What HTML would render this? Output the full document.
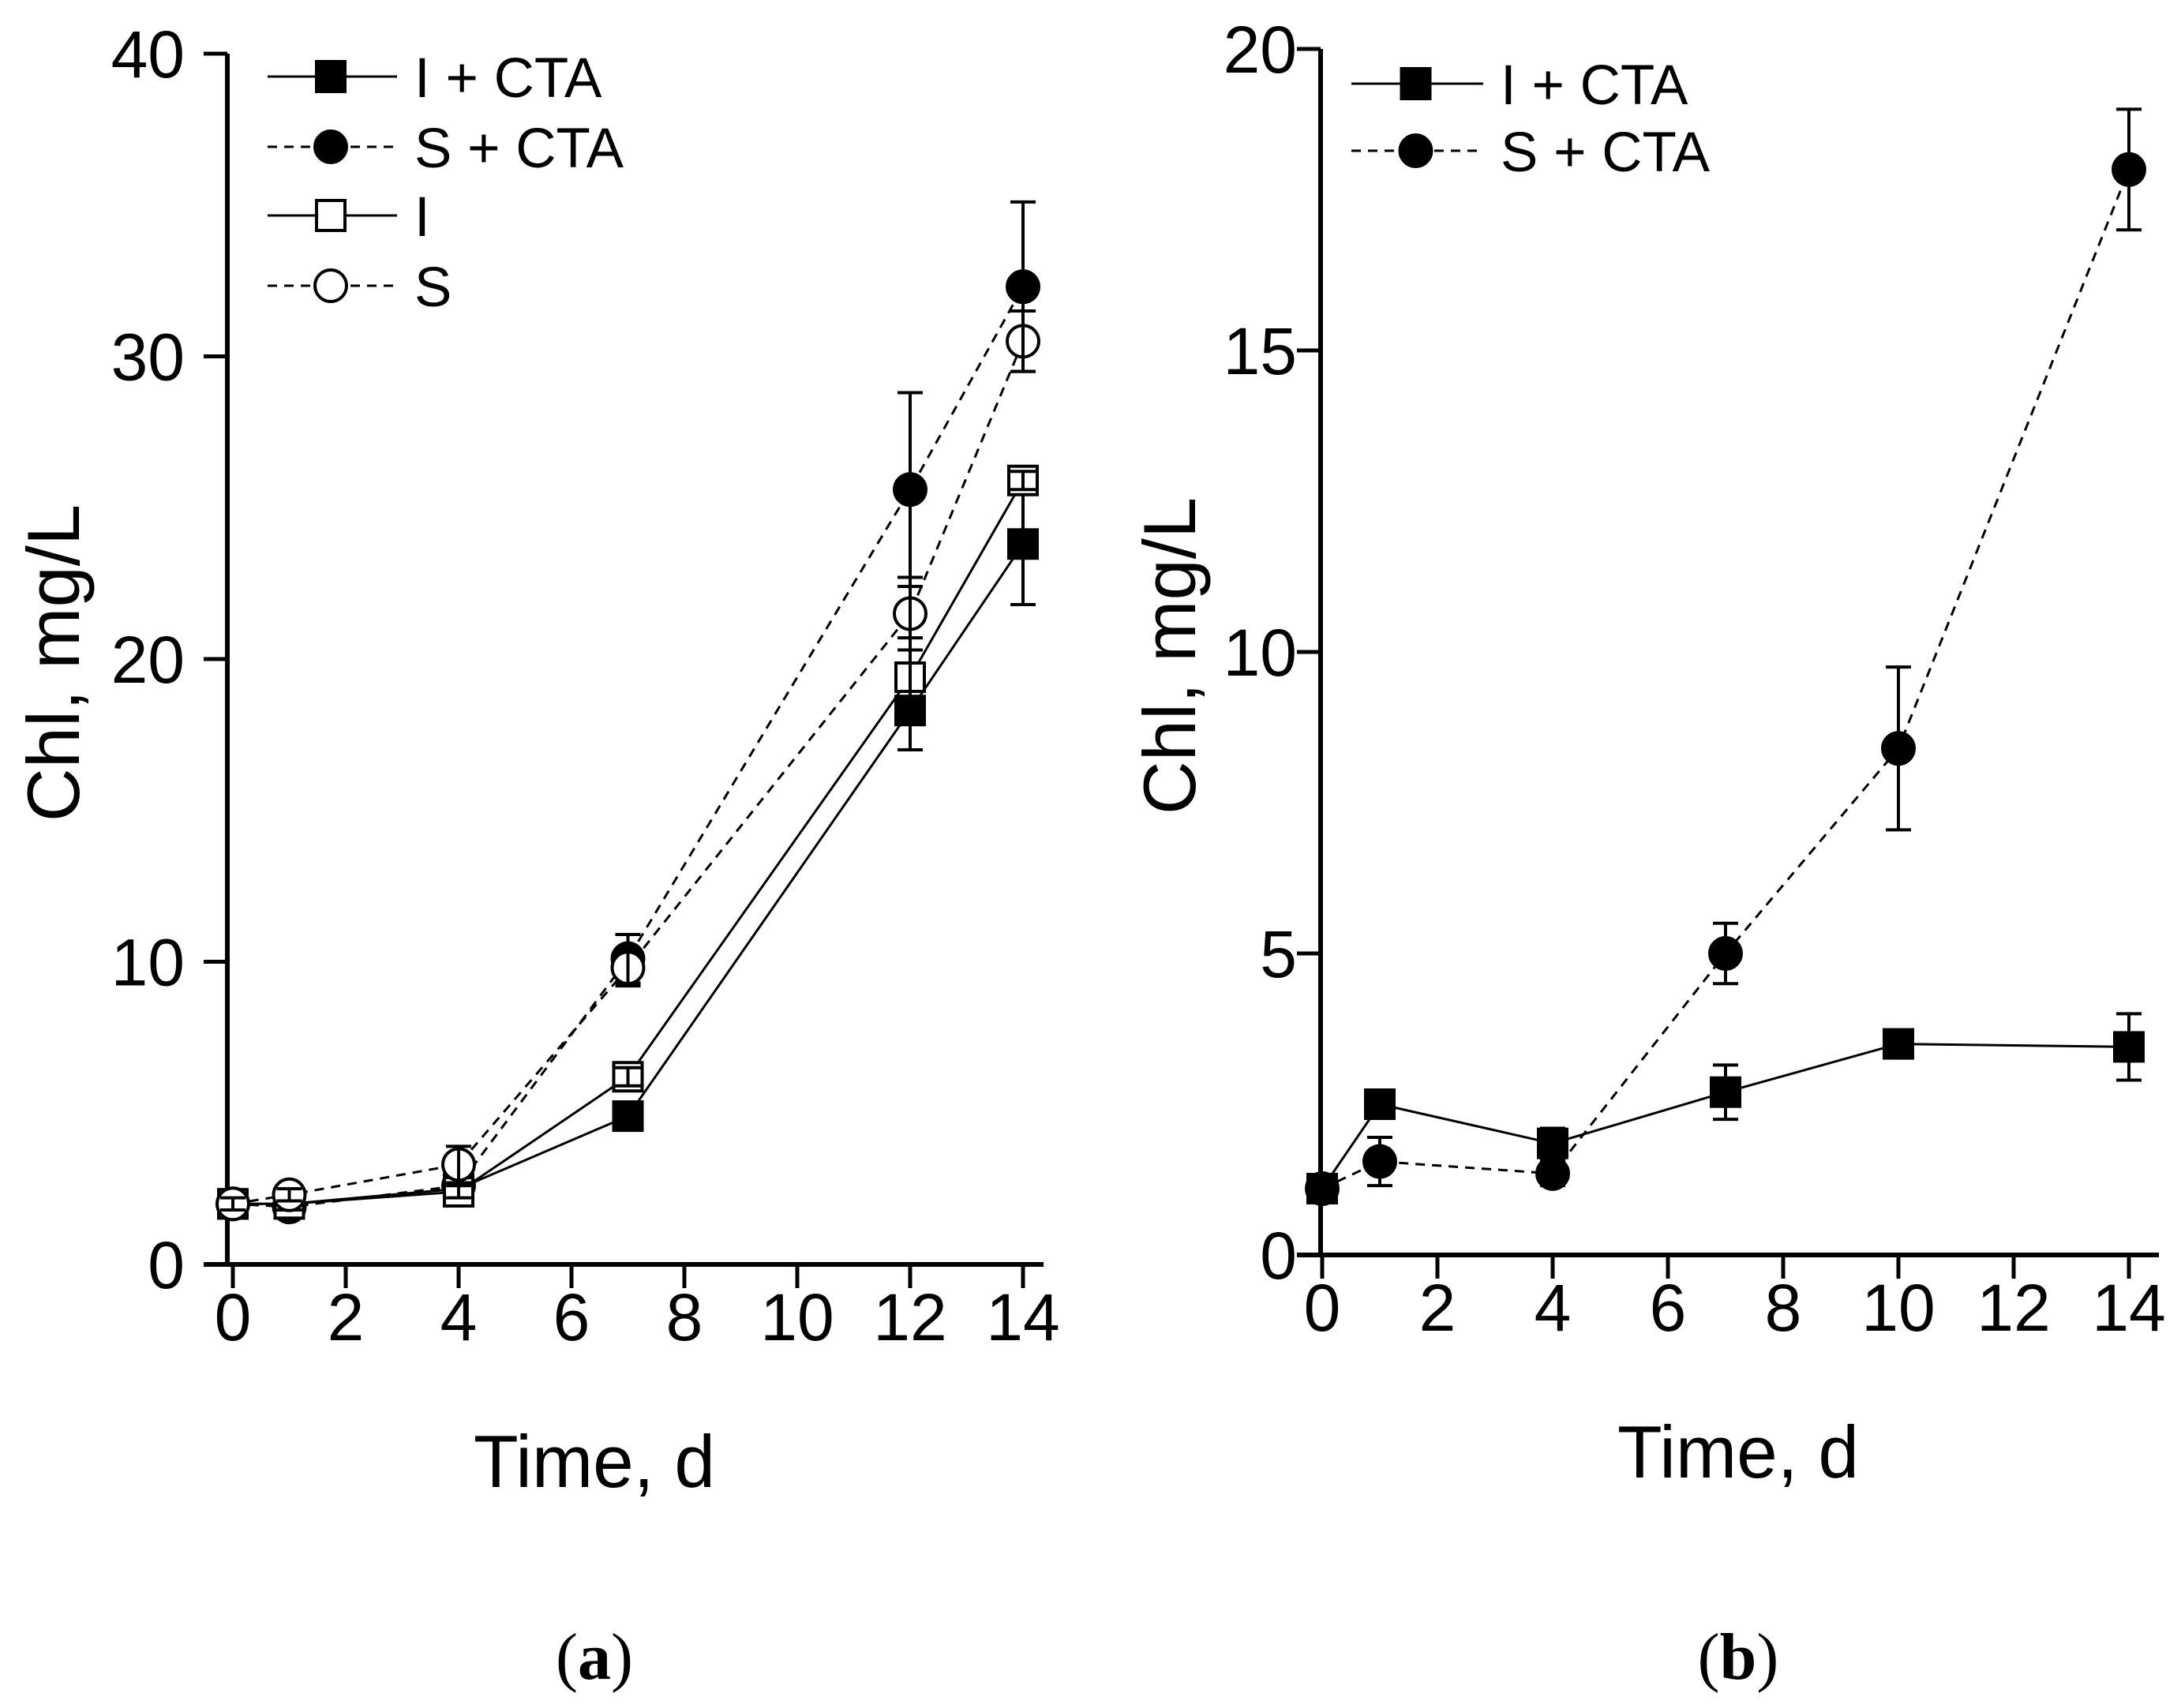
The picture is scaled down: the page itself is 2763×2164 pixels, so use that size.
<!DOCTYPE html>
<html><head><meta charset="utf-8"><style>
html,body{margin:0;padding:0;background:#fff;}
svg{display:block;font-family:"Liberation Sans",Arial,sans-serif;}
</style></head><body>
<svg id="chart" width="2763" height="2164" viewBox="0 0 2763 2164" xmlns="http://www.w3.org/2000/svg">
<rect width="2763" height="2164" fill="#fff"/>
<g id="pa"></g>
<g id="pb"></g>
</svg>
<script>
// Panel (a) data
const timesA = [0, 1, 4, 7, 12, 14];
const iCtaA = [2.0, 2.0, 2.5, 4.9, 18.3, 23.8];
const iCtaAErr = [0.2, 0.2, 0.2, 0.4, 1.3, 2.0];
const sCtaA = [2.0, 1.9, 2.6, 10.1, 25.6, 32.3];
const sCtaAErr = [0.2, 0.2, 0.3, 0.8, 3.2, 2.8];
const iA = [2.0, 2.0, 2.4, 6.2, 19.4, 25.9];
const iAErr = [0.2, 0.2, 0.2, 0.3, 1.3, 0.3];
const sA = [2.0, 2.3, 3.3, 9.8, 21.5, 30.5];
const sAErr = [0.2, 0.2, 0.6, 0.6, 1.2, 1.0];
const yTicksA = [0, 10, 20, 30, 40];
// Panel (b) data
const timesB = [0, 1, 4, 7, 10, 14];
const iCtaB = [1.1, 2.5, 1.85, 2.7, 3.5, 3.45];
const iCtaBErr = [0.1, 0.2, 0.25, 0.45, 0.1, 0.55];
const sCtaB = [1.1, 1.55, 1.35, 5.0, 8.4, 18.0];
const sCtaBErr = [0.1, 0.4, 0.2, 0.5, 1.35, 1.0];
const yTicksB = [0, 5, 10, 15, 20];
const xTicks = [0, 2, 4, 6, 8, 10, 12, 14];

const NS = 'http://www.w3.org/2000/svg';
function mk(parent, tag, attrs, text){
  const e = document.createElementNS(NS, tag);
  for (const k in attrs) e.setAttribute(k, attrs[k]);
  if (text !== undefined) e.textContent = text;
  parent.appendChild(e);
  return e;
}

function panel(g, cfg){
  const X = t => cfg.x0 + (t - 0) * (cfg.x14 - cfg.x0) / 14;
  const Y = v => cfg.y0 - v * (cfg.y0 - cfg.yTop) / cfg.yMax;
  const ax = mk(g, 'line', {x1: cfg.axL, y1: cfg.y0, x2: cfg.axL, y2: cfg.yTop, stroke: '#000', 'stroke-width': 6});
  
  
  const bx = mk(g, 'line', {x1: cfg.axL - 30, y1: cfg.y0, x2: cfg.axR, y2: cfg.y0, stroke: '#000', 'stroke-width': 6});
  
  
  cfg.yTicks.forEach(v => {
    const t = mk(g, 'line', {x1: cfg.axL - 30, y1: Y(v), x2: cfg.axL, y2: Y(v), stroke: '#000', 'stroke-width': 5});
    
    
    const l = mk(g, 'text', {x: cfg.axL - cfg.yLabOff, y: Y(v) + 30, 'font-size': 84, 'text-anchor': 'end'}, String(v));
    
    
  });
  xTicks.forEach(v => {
    const t = mk(g, 'line', {x1: X(v), y1: cfg.y0, x2: X(v), y2: cfg.y0 + 30, stroke: '#000', 'stroke-width': 5});
    
    
    const l = mk(g, 'text', {x: X(v), y: cfg.y0 + 96, 'font-size': 84, 'text-anchor': 'middle'}, String(v));
    
    
  });
  const xt = mk(g, 'text', {x: cfg.xTitleX, y: cfg.y0 + 282, 'font-size': 94, 'text-anchor': 'middle', textLength: 306, lengthAdjust: 'spacingAndGlyphs'}, 'Time, d');
  
  
  const yt = mk(g, 'text', {x: 0, y: 0, 'font-size': 94, 'text-anchor': 'middle', transform: `translate(${cfg.yTitleX},${cfg.yTitleY}) rotate(-90)`}, 'Chl, mg/L');
  
  
  const pl = mk(g, 'text', {x: cfg.xTitleX, y: 2127, 'font-size': 84, 'text-anchor': 'middle', 'font-family': '"Liberation Serif", serif'}, '');
  
  
  mk(pl, 'tspan', {}, '(');
  mk(pl, 'tspan', {'font-weight': 'bold'}, cfg.label);
  mk(pl, 'tspan', {}, ')');

  cfg.series.forEach(s => {
    const sg = mk(g, 'g', {});
    
    
    const pts = s.vals.map((v, i) => X(cfg.times[i]) + ',' + Y(v)).join(' ');
    const pl = mk(sg, 'polyline', {points: pts, fill: 'none', stroke: '#000', 'stroke-width': 3, 'stroke-dasharray': s.dash ? '12 9' : 'none'});
    
    
    s.vals.forEach((v, i) => {
      const cx = X(cfg.times[i]), cy = Y(v);
      let m;
      if (s.shape === 'sq') m = mk(sg, 'rect', {x: cx - 18, y: cy - 18, width: 36, height: 36, fill: s.fill ? '#000' : '#fff', stroke: '#000', 'stroke-width': 4});
      else m = mk(sg, 'circle', {cx: cx, cy: cy, r: 20, fill: s.fill ? '#000' : '#fff', stroke: '#000', 'stroke-width': 4});
      
      
      const e = s.err[i];
      const yt = Y(v + e), yb = Y(v - e);
      const eb = mk(sg, 'path', {d: `M${cx},${yt}V${yb}M${cx-16},${yt}H${cx+16}M${cx-16},${yb}H${cx+16}`, stroke: '#000', 'stroke-width': 4, fill: 'none'});
      
      
    });
  });

  cfg.series.forEach((s, i) => {
    const ly = cfg.legY[i];
    const lg = mk(g, 'g', {});
    
    
    mk(lg, 'line', {x1: cfg.legX1, y1: ly, x2: cfg.legX2, y2: ly, stroke: '#000', 'stroke-width': 3, 'stroke-dasharray': s.dash ? '12 9' : 'none'});
    const mx = (cfg.legX1 + cfg.legX2) / 2 - 2;
    if (s.shape === 'sq') mk(lg, 'rect', {x: mx - 18, y: ly - 19, width: 36, height: 38, fill: s.fill ? '#000' : '#fff', stroke: '#000', 'stroke-width': 4});
    else mk(lg, 'circle', {cx: mx, cy: ly, r: 20, fill: s.fill ? '#000' : '#fff', stroke: '#000', 'stroke-width': 4});
    mk(lg, 'text', {x: cfg.legX2 + 22, y: ly + 26, 'font-size': 71}, s.name);
  });
}

panel(document.getElementById('pa'), {
  x0: 295, x14: 1296, axL: 288, axR: 1322, y0: 1602, yTop: 68, yMax: 40,
  yTicks: yTicksA, times: timesA, label: 'a', yLabOff: 54,
  xTitleX: 753, yTitleX: 100, yTitleY: 840,
  legX1: 339, legX2: 503, legY: [97, 186, 273, 362],
  series: [
    {key: 'i-cta', name: 'I + CTA', vals: iCtaA, err: iCtaAErr, shape: 'sq', fill: true, dash: false},
    {key: 's-cta', name: 'S + CTA', vals: sCtaA, err: sCtaAErr, shape: 'ci', fill: true, dash: true},
    {key: 'i', name: 'I', vals: iA, err: iAErr, shape: 'sq', fill: false, dash: false},
    {key: 's', name: 'S', vals: sA, err: sAErr, shape: 'ci', fill: false, dash: true}
  ]
});
panel(document.getElementById('pb'), {
  x0: 1675, x14: 2697, axL: 1673, axR: 2735, y0: 1590, yTop: 62, yMax: 20,
  yTicks: yTicksB, times: timesB, label: 'b', yLabOff: 30,
  xTitleX: 2202, yTitleX: 1514, yTitleY: 831,
  legX1: 1712, legX2: 1879, legY: [106, 191],
  series: [
    {key: 'i-cta', name: 'I + CTA', vals: iCtaB, err: iCtaBErr, shape: 'sq', fill: true, dash: false},
    {key: 's-cta', name: 'S + CTA', vals: sCtaB, err: sCtaBErr, shape: 'ci', fill: true, dash: true}
  ]
});
</script>
</body></html>
